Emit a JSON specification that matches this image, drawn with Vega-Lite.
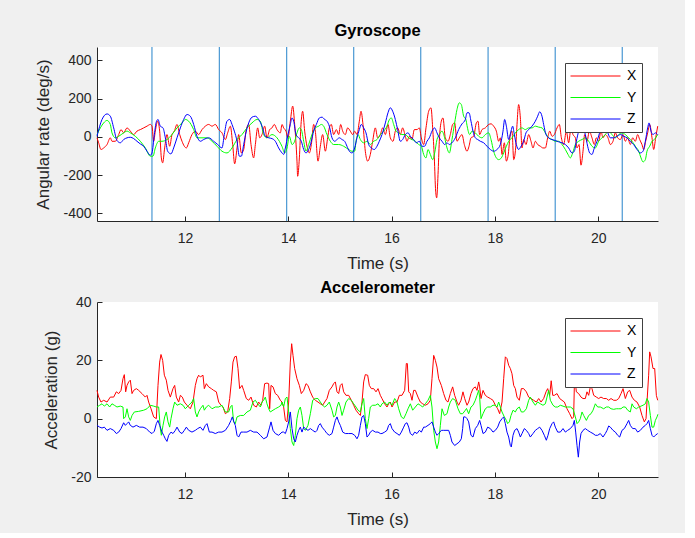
{
"$schema": "https://vega.github.io/schema/vega-lite/v6.json",
"background": "#f0f0f0",
"padding": {"left": 34, "top": 22, "right": 25, "bottom": 6},
"spacing": 8,
"config": {
 "view": {"fill": "white", "stroke": null},
 "font": "Liberation Sans",
 "axis": {"grid": false, "domainColor": "#262626", "tickColor": "#262626", "tickSize": -5, "labelFontSize": 14, "labelColor": "#262626", "titleFontSize": 17, "titleFontWeight": "normal", "titleColor": "#262626", "labelExpr": "replace(datum.label, '\u2212', '-')"},
 "axisX": {"labelPadding": 15, "titlePadding": 10},
 "axisY": {"labelPadding": 11, "titlePadding": 10},
 "title": {"fontSize": 16.5, "fontWeight": "bold", "color": "#000000", "offset": 7},
 "legend": {"orient": "top-right", "offset": 16, "fillColor": "white", "strokeColor": "#404040", "padding": 5, "symbolType": "stroke", "symbolSize": 2500, "symbolStrokeWidth": 1, "labelFontSize": 14, "labelColor": "#000000", "labelOffset": 6, "clipHeight": 16, "rowPadding": 5.5, "cornerRadius": 0}
},
"resolve": {"scale": {"color": "independent", "x": "independent", "y": "independent"}, "legend": {"color": "independent"}},
"datasets": {
 "vlines": [{"t":11.36},{"t":12.665},{"t":13.968},{"t":15.266},{"t":16.564},{"t":17.868},{"t":19.168},{"t":20.466}],
 "gyro": [
{"s":"X","t":10.296,"v":-5},{"s":"X","t":10.328,"v":-31},{"s":"X","t":10.373,"v":-66},{"s":"X","t":10.425,"v":-58},{"s":"X","t":10.49,"v":-40},{"s":"X","t":10.554,"v":-5},{"s":"X","t":10.586,"v":-23},{"s":"X","t":10.651,"v":-23},{"s":"X","t":10.716,"v":12},{"s":"X","t":10.761,"v":38},{"s":"X","t":10.812,"v":21},{"s":"X","t":10.877,"v":47},{"s":"X","t":10.941,"v":30},{"s":"X","t":11.006,"v":12},{"s":"X","t":11.07,"v":30},{"s":"X","t":11.135,"v":38},{"s":"X","t":11.2,"v":47},{"s":"X","t":11.264,"v":56},{"s":"X","t":11.329,"v":65},{"s":"X","t":11.361,"v":56},{"s":"X","t":11.393,"v":-23},{"s":"X","t":11.425,"v":30},{"s":"X","t":11.471,"v":82},{"s":"X","t":11.509,"v":30},{"s":"X","t":11.542,"v":-110},{"s":"X","t":11.567,"v":-136},{"s":"X","t":11.606,"v":-58},{"s":"X","t":11.651,"v":12},{"s":"X","t":11.703,"v":-49},{"s":"X","t":11.748,"v":12},{"s":"X","t":11.793,"v":30},{"s":"X","t":11.845,"v":65},{"s":"X","t":11.897,"v":12},{"s":"X","t":11.942,"v":-23},{"s":"X","t":11.987,"v":-49},{"s":"X","t":12.026,"v":-58},{"s":"X","t":12.071,"v":-31},{"s":"X","t":12.135,"v":12},{"s":"X","t":12.2,"v":30},{"s":"X","t":12.264,"v":12},{"s":"X","t":12.329,"v":38},{"s":"X","t":12.394,"v":56},{"s":"X","t":12.458,"v":65},{"s":"X","t":12.523,"v":56},{"s":"X","t":12.587,"v":65},{"s":"X","t":12.652,"v":38},{"s":"X","t":12.716,"v":21},{"s":"X","t":12.781,"v":-14},{"s":"X","t":12.826,"v":21},{"s":"X","t":12.878,"v":56},{"s":"X","t":12.923,"v":-40},{"s":"X","t":12.961,"v":-141},{"s":"X","t":13.007,"v":-58},{"s":"X","t":13.039,"v":12},{"s":"X","t":13.091,"v":-84},{"s":"X","t":13.136,"v":-66},{"s":"X","t":13.181,"v":30},{"s":"X","t":13.233,"v":65},{"s":"X","t":13.278,"v":-40},{"s":"X","t":13.329,"v":-110},{"s":"X","t":13.362,"v":-40},{"s":"X","t":13.407,"v":47},{"s":"X","t":13.446,"v":-5},{"s":"X","t":13.491,"v":12},{"s":"X","t":13.542,"v":56},{"s":"X","t":13.587,"v":-5},{"s":"X","t":13.639,"v":38},{"s":"X","t":13.684,"v":47},{"s":"X","t":13.729,"v":65},{"s":"X","t":13.781,"v":38},{"s":"X","t":13.846,"v":21},{"s":"X","t":13.878,"v":65},{"s":"X","t":13.91,"v":47},{"s":"X","t":13.955,"v":30},{"s":"X","t":13.994,"v":-5},{"s":"X","t":14.039,"v":82},{"s":"X","t":14.085,"v":161},{"s":"X","t":14.123,"v":65},{"s":"X","t":14.168,"v":-127},{"s":"X","t":14.181,"v":-206},{"s":"X","t":14.214,"v":-110},{"s":"X","t":14.246,"v":65},{"s":"X","t":14.278,"v":134},{"s":"X","t":14.317,"v":30},{"s":"X","t":14.362,"v":-49},{"s":"X","t":14.407,"v":-84},{"s":"X","t":14.446,"v":-40},{"s":"X","t":14.491,"v":65},{"s":"X","t":14.523,"v":30},{"s":"X","t":14.575,"v":-127},{"s":"X","t":14.62,"v":-49},{"s":"X","t":14.665,"v":12},{"s":"X","t":14.717,"v":-75},{"s":"X","t":14.762,"v":-5},{"s":"X","t":14.794,"v":47},{"s":"X","t":14.833,"v":65},{"s":"X","t":14.878,"v":12},{"s":"X","t":14.93,"v":38},{"s":"X","t":14.975,"v":12},{"s":"X","t":15.014,"v":65},{"s":"X","t":15.053,"v":30},{"s":"X","t":15.104,"v":12},{"s":"X","t":15.149,"v":47},{"s":"X","t":15.201,"v":30},{"s":"X","t":15.246,"v":12},{"s":"X","t":15.285,"v":30},{"s":"X","t":15.33,"v":12},{"s":"X","t":15.375,"v":82},{"s":"X","t":15.408,"v":134},{"s":"X","t":15.446,"v":65},{"s":"X","t":15.491,"v":-75},{"s":"X","t":15.537,"v":-127},{"s":"X","t":15.588,"v":-92},{"s":"X","t":15.633,"v":-23},{"s":"X","t":15.685,"v":47},{"s":"X","t":15.73,"v":-5},{"s":"X","t":15.782,"v":12},{"s":"X","t":15.827,"v":47},{"s":"X","t":15.879,"v":12},{"s":"X","t":15.93,"v":65},{"s":"X","t":15.975,"v":-5},{"s":"X","t":16.027,"v":-23},{"s":"X","t":16.072,"v":30},{"s":"X","t":16.117,"v":47},{"s":"X","t":16.169,"v":12},{"s":"X","t":16.214,"v":47},{"s":"X","t":16.266,"v":3},{"s":"X","t":16.298,"v":-23},{"s":"X","t":16.343,"v":3},{"s":"X","t":16.395,"v":-14},{"s":"X","t":16.44,"v":38},{"s":"X","t":16.492,"v":38},{"s":"X","t":16.537,"v":47},{"s":"X","t":16.576,"v":-5},{"s":"X","t":16.621,"v":-40},{"s":"X","t":16.666,"v":47},{"s":"X","t":16.718,"v":134},{"s":"X","t":16.763,"v":152},{"s":"X","t":16.795,"v":47},{"s":"X","t":16.827,"v":-110},{"s":"X","t":16.853,"v":-284},{"s":"X","t":16.873,"v":-319},{"s":"X","t":16.899,"v":-197},{"s":"X","t":16.924,"v":-23},{"s":"X","t":16.963,"v":82},{"s":"X","t":16.995,"v":99},{"s":"X","t":17.04,"v":-5},{"s":"X","t":17.092,"v":-23},{"s":"X","t":17.137,"v":12},{"s":"X","t":17.182,"v":65},{"s":"X","t":17.221,"v":73},{"s":"X","t":17.266,"v":-23},{"s":"X","t":17.311,"v":-5},{"s":"X","t":17.363,"v":12},{"s":"X","t":17.408,"v":-40},{"s":"X","t":17.46,"v":-75},{"s":"X","t":17.499,"v":-49},{"s":"X","t":17.537,"v":-5},{"s":"X","t":17.589,"v":3},{"s":"X","t":17.641,"v":73},{"s":"X","t":17.673,"v":82},{"s":"X","t":17.705,"v":12},{"s":"X","t":17.75,"v":38},{"s":"X","t":17.815,"v":47},{"s":"X","t":17.88,"v":65},{"s":"X","t":17.925,"v":68},{"s":"X","t":17.976,"v":56},{"s":"X","t":18.028,"v":30},{"s":"X","t":18.073,"v":-23},{"s":"X","t":18.105,"v":-5},{"s":"X","t":18.138,"v":-92},{"s":"X","t":18.183,"v":-31},{"s":"X","t":18.222,"v":-127},{"s":"X","t":18.254,"v":-101},{"s":"X","t":18.299,"v":12},{"s":"X","t":18.331,"v":30},{"s":"X","t":18.364,"v":-119},{"s":"X","t":18.402,"v":-58},{"s":"X","t":18.428,"v":65},{"s":"X","t":18.46,"v":169},{"s":"X","t":18.493,"v":99},{"s":"X","t":18.525,"v":-58},{"s":"X","t":18.557,"v":-14},{"s":"X","t":18.602,"v":-40},{"s":"X","t":18.654,"v":12},{"s":"X","t":18.699,"v":-23},{"s":"X","t":18.738,"v":-58},{"s":"X","t":18.783,"v":-23},{"s":"X","t":18.828,"v":-40},{"s":"X","t":18.88,"v":-49},{"s":"X","t":18.931,"v":-58},{"s":"X","t":18.977,"v":-58},{"s":"X","t":19.022,"v":-5},{"s":"X","t":19.061,"v":30},{"s":"X","t":19.106,"v":3},{"s":"X","t":19.151,"v":12},{"s":"X","t":19.203,"v":47},{"s":"X","t":19.248,"v":65},{"s":"X","t":19.287,"v":-5},{"s":"X","t":19.332,"v":-40},{"s":"X","t":19.383,"v":30},{"s":"X","t":19.428,"v":-31},{"s":"X","t":19.474,"v":47},{"s":"X","t":19.512,"v":12},{"s":"X","t":19.558,"v":-5},{"s":"X","t":19.59,"v":-58},{"s":"X","t":19.629,"v":-40},{"s":"X","t":19.667,"v":-148},{"s":"X","t":19.706,"v":-75},{"s":"X","t":19.738,"v":12},{"s":"X","t":19.783,"v":-23},{"s":"X","t":19.829,"v":30},{"s":"X","t":19.88,"v":-5},{"s":"X","t":19.925,"v":-40},{"s":"X","t":19.964,"v":-5},{"s":"X","t":20.009,"v":-23},{"s":"X","t":20.054,"v":30},{"s":"X","t":20.093,"v":-5},{"s":"X","t":20.138,"v":12},{"s":"X","t":20.19,"v":-5},{"s":"X","t":20.235,"v":-40},{"s":"X","t":20.287,"v":-23},{"s":"X","t":20.332,"v":21},{"s":"X","t":20.377,"v":-5},{"s":"X","t":20.429,"v":-14},{"s":"X","t":20.481,"v":12},{"s":"X","t":20.526,"v":-23},{"s":"X","t":20.571,"v":-5},{"s":"X","t":20.622,"v":-40},{"s":"X","t":20.668,"v":-5},{"s":"X","t":20.719,"v":-23},{"s":"X","t":20.764,"v":12},{"s":"X","t":20.803,"v":-14},{"s":"X","t":20.848,"v":-40},{"s":"X","t":20.881,"v":-66},{"s":"X","t":20.919,"v":-23},{"s":"X","t":20.958,"v":21},{"s":"X","t":20.997,"v":65},{"s":"X","t":21.042,"v":-5},{"s":"X","t":21.074,"v":-66},{"s":"X","t":21.113,"v":-5},{"s":"X","t":21.152,"v":56},
{"s":"Y","t":10.296,"v":12},{"s":"Y","t":10.361,"v":47},{"s":"Y","t":10.425,"v":73},{"s":"Y","t":10.49,"v":86},{"s":"Y","t":10.554,"v":65},{"s":"Y","t":10.586,"v":21},{"s":"Y","t":10.651,"v":-5},{"s":"Y","t":10.716,"v":3},{"s":"Y","t":10.812,"v":21},{"s":"Y","t":10.877,"v":30},{"s":"Y","t":10.941,"v":21},{"s":"Y","t":11.038,"v":3},{"s":"Y","t":11.135,"v":-23},{"s":"Y","t":11.232,"v":-58},{"s":"Y","t":11.329,"v":-101},{"s":"Y","t":11.38,"v":-101},{"s":"Y","t":11.425,"v":-58},{"s":"Y","t":11.49,"v":-23},{"s":"Y","t":11.555,"v":-23},{"s":"Y","t":11.651,"v":-14},{"s":"Y","t":11.748,"v":12},{"s":"Y","t":11.845,"v":47},{"s":"Y","t":11.942,"v":73},{"s":"Y","t":12.006,"v":91},{"s":"Y","t":12.071,"v":82},{"s":"Y","t":12.168,"v":38},{"s":"Y","t":12.232,"v":-5},{"s":"Y","t":12.329,"v":-5},{"s":"Y","t":12.426,"v":-5},{"s":"Y","t":12.523,"v":-23},{"s":"Y","t":12.619,"v":-49},{"s":"Y","t":12.716,"v":-75},{"s":"Y","t":12.813,"v":-84},{"s":"Y","t":12.91,"v":-58},{"s":"Y","t":13.007,"v":-14},{"s":"Y","t":13.104,"v":12},{"s":"Y","t":13.2,"v":47},{"s":"Y","t":13.297,"v":73},{"s":"Y","t":13.394,"v":91},{"s":"Y","t":13.458,"v":82},{"s":"Y","t":13.523,"v":12},{"s":"Y","t":13.587,"v":-5},{"s":"Y","t":13.684,"v":12},{"s":"Y","t":13.781,"v":-5},{"s":"Y","t":13.878,"v":-50},{"s":"Y","t":13.93,"v":-84},{"s":"Y","t":13.975,"v":-58},{"s":"Y","t":14.02,"v":3},{"s":"Y","t":14.072,"v":-40},{"s":"Y","t":14.123,"v":-23},{"s":"Y","t":14.168,"v":21},{"s":"Y","t":14.214,"v":47},{"s":"Y","t":14.252,"v":38},{"s":"Y","t":14.298,"v":-23},{"s":"Y","t":14.343,"v":-75},{"s":"Y","t":14.394,"v":-40},{"s":"Y","t":14.459,"v":12},{"s":"Y","t":14.523,"v":47},{"s":"Y","t":14.588,"v":56},{"s":"Y","t":14.64,"v":65},{"s":"Y","t":14.685,"v":56},{"s":"Y","t":14.749,"v":12},{"s":"Y","t":14.814,"v":-23},{"s":"Y","t":14.878,"v":-40},{"s":"Y","t":14.975,"v":-40},{"s":"Y","t":15.072,"v":-49},{"s":"Y","t":15.169,"v":-66},{"s":"Y","t":15.233,"v":-75},{"s":"Y","t":15.285,"v":-75},{"s":"Y","t":15.311,"v":-23},{"s":"Y","t":15.35,"v":12},{"s":"Y","t":15.395,"v":-14},{"s":"Y","t":15.459,"v":-31},{"s":"Y","t":15.524,"v":-23},{"s":"Y","t":15.588,"v":-40},{"s":"Y","t":15.653,"v":-23},{"s":"Y","t":15.717,"v":-14},{"s":"Y","t":15.782,"v":12},{"s":"Y","t":15.846,"v":30},{"s":"Y","t":15.911,"v":56},{"s":"Y","t":15.956,"v":90},{"s":"Y","t":15.995,"v":99},{"s":"Y","t":16.04,"v":65},{"s":"Y","t":16.085,"v":30},{"s":"Y","t":16.137,"v":21},{"s":"Y","t":16.201,"v":12},{"s":"Y","t":16.266,"v":12},{"s":"Y","t":16.33,"v":-5},{"s":"Y","t":16.395,"v":-14},{"s":"Y","t":16.46,"v":-23},{"s":"Y","t":16.524,"v":-40},{"s":"Y","t":16.576,"v":-49},{"s":"Y","t":16.621,"v":-92},{"s":"Y","t":16.666,"v":-110},{"s":"Y","t":16.705,"v":-66},{"s":"Y","t":16.75,"v":-92},{"s":"Y","t":16.795,"v":-119},{"s":"Y","t":16.834,"v":-84},{"s":"Y","t":16.879,"v":-14},{"s":"Y","t":16.924,"v":12},{"s":"Y","t":16.976,"v":30},{"s":"Y","t":17.027,"v":-5},{"s":"Y","t":17.073,"v":-58},{"s":"Y","t":17.118,"v":-84},{"s":"Y","t":17.169,"v":-14},{"s":"Y","t":17.221,"v":73},{"s":"Y","t":17.266,"v":143},{"s":"Y","t":17.311,"v":178},{"s":"Y","t":17.35,"v":169},{"s":"Y","t":17.395,"v":108},{"s":"Y","t":17.44,"v":90},{"s":"Y","t":17.46,"v":60},{"s":"Y","t":17.512,"v":12},{"s":"Y","t":17.557,"v":30},{"s":"Y","t":17.621,"v":21},{"s":"Y","t":17.686,"v":3},{"s":"Y","t":17.75,"v":-5},{"s":"Y","t":17.815,"v":12},{"s":"Y","t":17.88,"v":21},{"s":"Y","t":17.925,"v":-14},{"s":"Y","t":17.976,"v":-75},{"s":"Y","t":18.028,"v":-110},{"s":"Y","t":18.073,"v":-119},{"s":"Y","t":18.125,"v":-110},{"s":"Y","t":18.17,"v":-84},{"s":"Y","t":18.222,"v":-49},{"s":"Y","t":18.267,"v":-23},{"s":"Y","t":18.331,"v":-5},{"s":"Y","t":18.396,"v":21},{"s":"Y","t":18.46,"v":38},{"s":"Y","t":18.525,"v":47},{"s":"Y","t":18.589,"v":38},{"s":"Y","t":18.654,"v":47},{"s":"Y","t":18.718,"v":47},{"s":"Y","t":18.783,"v":56},{"s":"Y","t":18.848,"v":51},{"s":"Y","t":18.912,"v":47},{"s":"Y","t":18.977,"v":21},{"s":"Y","t":19.041,"v":-5},{"s":"Y","t":19.106,"v":-14},{"s":"Y","t":19.17,"v":-23},{"s":"Y","t":19.235,"v":-23},{"s":"Y","t":19.299,"v":-40},{"s":"Y","t":19.364,"v":-66},{"s":"Y","t":19.416,"v":-92},{"s":"Y","t":19.461,"v":-110},{"s":"Y","t":19.506,"v":-84},{"s":"Y","t":19.558,"v":-40},{"s":"Y","t":19.622,"v":-23},{"s":"Y","t":19.687,"v":-14},{"s":"Y","t":19.751,"v":-5},{"s":"Y","t":19.816,"v":-23},{"s":"Y","t":19.88,"v":-49},{"s":"Y","t":19.945,"v":-58},{"s":"Y","t":20.009,"v":-23},{"s":"Y","t":20.074,"v":-5},{"s":"Y","t":20.138,"v":12},{"s":"Y","t":20.203,"v":30},{"s":"Y","t":20.267,"v":12},{"s":"Y","t":20.332,"v":-5},{"s":"Y","t":20.397,"v":12},{"s":"Y","t":20.461,"v":21},{"s":"Y","t":20.526,"v":12},{"s":"Y","t":20.59,"v":-5},{"s":"Y","t":20.655,"v":-23},{"s":"Y","t":20.719,"v":-49},{"s":"Y","t":20.784,"v":-75},{"s":"Y","t":20.829,"v":-110},{"s":"Y","t":20.868,"v":-131},{"s":"Y","t":20.913,"v":-119},{"s":"Y","t":20.945,"v":-75},{"s":"Y","t":20.997,"v":-49},{"s":"Y","t":21.042,"v":-23},{"s":"Y","t":21.087,"v":-14},{"s":"Y","t":21.152,"v":12},
{"s":"Z","t":10.296,"v":3},{"s":"Z","t":10.393,"v":91},{"s":"Z","t":10.49,"v":120},{"s":"Z","t":10.554,"v":108},{"s":"Z","t":10.619,"v":47},{"s":"Z","t":10.683,"v":-19},{"s":"Z","t":10.748,"v":-31},{"s":"Z","t":10.812,"v":-14},{"s":"Z","t":10.877,"v":-5},{"s":"Z","t":10.941,"v":-2},{"s":"Z","t":11.006,"v":-9},{"s":"Z","t":11.07,"v":-23},{"s":"Z","t":11.135,"v":-37},{"s":"Z","t":11.2,"v":-49},{"s":"Z","t":11.264,"v":-75},{"s":"Z","t":11.329,"v":-96},{"s":"Z","t":11.361,"v":-84},{"s":"Z","t":11.406,"v":12},{"s":"Z","t":11.445,"v":79},{"s":"Z","t":11.477,"v":91},{"s":"Z","t":11.522,"v":56},{"s":"Z","t":11.574,"v":47},{"s":"Z","t":11.619,"v":-5},{"s":"Z","t":11.664,"v":-75},{"s":"Z","t":11.729,"v":-89},{"s":"Z","t":11.78,"v":-58},{"s":"Z","t":11.845,"v":-5},{"s":"Z","t":11.91,"v":47},{"s":"Z","t":11.974,"v":91},{"s":"Z","t":12.039,"v":117},{"s":"Z","t":12.103,"v":108},{"s":"Z","t":12.168,"v":65},{"s":"Z","t":12.232,"v":3},{"s":"Z","t":12.297,"v":-23},{"s":"Z","t":12.361,"v":-14},{"s":"Z","t":12.458,"v":-5},{"s":"Z","t":12.555,"v":-23},{"s":"Z","t":12.632,"v":-40},{"s":"Z","t":12.716,"v":-58},{"s":"Z","t":12.761,"v":12},{"s":"Z","t":12.813,"v":82},{"s":"Z","t":12.865,"v":91},{"s":"Z","t":12.91,"v":65},{"s":"Z","t":12.955,"v":30},{"s":"Z","t":13.007,"v":-23},{"s":"Z","t":13.052,"v":-101},{"s":"Z","t":13.091,"v":-101},{"s":"Z","t":13.136,"v":-40},{"s":"Z","t":13.187,"v":30},{"s":"Z","t":13.233,"v":73},{"s":"Z","t":13.297,"v":103},{"s":"Z","t":13.362,"v":108},{"s":"Z","t":13.426,"v":91},{"s":"Z","t":13.491,"v":56},{"s":"Z","t":13.555,"v":3},{"s":"Z","t":13.62,"v":-5},{"s":"Z","t":13.684,"v":-9},{"s":"Z","t":13.749,"v":-23},{"s":"Z","t":13.813,"v":-58},{"s":"Z","t":13.878,"v":-84},{"s":"Z","t":13.91,"v":-92},{"s":"Z","t":13.943,"v":-58},{"s":"Z","t":13.994,"v":12},{"s":"Z","t":14.039,"v":65},{"s":"Z","t":14.072,"v":99},{"s":"Z","t":14.104,"v":82},{"s":"Z","t":14.149,"v":12},{"s":"Z","t":14.201,"v":-5},{"s":"Z","t":14.252,"v":-23},{"s":"Z","t":14.298,"v":-66},{"s":"Z","t":14.343,"v":-84},{"s":"Z","t":14.394,"v":-66},{"s":"Z","t":14.446,"v":-23},{"s":"Z","t":14.491,"v":30},{"s":"Z","t":14.543,"v":65},{"s":"Z","t":14.601,"v":99},{"s":"Z","t":14.653,"v":103},{"s":"Z","t":14.704,"v":91},{"s":"Z","t":14.749,"v":82},{"s":"Z","t":14.794,"v":56},{"s":"Z","t":14.846,"v":-5},{"s":"Z","t":14.898,"v":-23},{"s":"Z","t":14.943,"v":-14},{"s":"Z","t":14.988,"v":-5},{"s":"Z","t":15.04,"v":-14},{"s":"Z","t":15.091,"v":-23},{"s":"Z","t":15.136,"v":-49},{"s":"Z","t":15.182,"v":-75},{"s":"Z","t":15.233,"v":-84},{"s":"Z","t":15.285,"v":-58},{"s":"Z","t":15.33,"v":-5},{"s":"Z","t":15.375,"v":38},{"s":"Z","t":15.414,"v":65},{"s":"Z","t":15.459,"v":47},{"s":"Z","t":15.504,"v":21},{"s":"Z","t":15.556,"v":-40},{"s":"Z","t":15.608,"v":-58},{"s":"Z","t":15.666,"v":-66},{"s":"Z","t":15.717,"v":-49},{"s":"Z","t":15.762,"v":-23},{"s":"Z","t":15.814,"v":12},{"s":"Z","t":15.879,"v":73},{"s":"Z","t":15.93,"v":126},{"s":"Z","t":15.975,"v":152},{"s":"Z","t":16.021,"v":134},{"s":"Z","t":16.072,"v":91},{"s":"Z","t":16.117,"v":38},{"s":"Z","t":16.169,"v":-23},{"s":"Z","t":16.214,"v":-14},{"s":"Z","t":16.266,"v":12},{"s":"Z","t":16.318,"v":21},{"s":"Z","t":16.363,"v":3},{"s":"Z","t":16.427,"v":-14},{"s":"Z","t":16.479,"v":-31},{"s":"Z","t":16.537,"v":-23},{"s":"Z","t":16.589,"v":-49},{"s":"Z","t":16.64,"v":-49},{"s":"Z","t":16.685,"v":-23},{"s":"Z","t":16.731,"v":-5},{"s":"Z","t":16.782,"v":30},{"s":"Z","t":16.834,"v":47},{"s":"Z","t":16.879,"v":21},{"s":"Z","t":16.924,"v":-5},{"s":"Z","t":16.976,"v":-23},{"s":"Z","t":17.027,"v":-40},{"s":"Z","t":17.073,"v":-31},{"s":"Z","t":17.118,"v":-40},{"s":"Z","t":17.169,"v":-31},{"s":"Z","t":17.234,"v":-5},{"s":"Z","t":17.298,"v":38},{"s":"Z","t":17.363,"v":68},{"s":"Z","t":17.427,"v":90},{"s":"Z","t":17.46,"v":126},{"s":"Z","t":17.499,"v":126},{"s":"Z","t":17.537,"v":82},{"s":"Z","t":17.576,"v":30},{"s":"Z","t":17.621,"v":-5},{"s":"Z","t":17.667,"v":-14},{"s":"Z","t":17.718,"v":-23},{"s":"Z","t":17.783,"v":-31},{"s":"Z","t":17.847,"v":-49},{"s":"Z","t":17.912,"v":-66},{"s":"Z","t":17.976,"v":-75},{"s":"Z","t":18.041,"v":-66},{"s":"Z","t":18.105,"v":-40},{"s":"Z","t":18.157,"v":30},{"s":"Z","t":18.189,"v":91},{"s":"Z","t":18.222,"v":56},{"s":"Z","t":18.267,"v":-14},{"s":"Z","t":18.312,"v":30},{"s":"Z","t":18.344,"v":56},{"s":"Z","t":18.376,"v":12},{"s":"Z","t":18.415,"v":-40},{"s":"Z","t":18.46,"v":-66},{"s":"Z","t":18.506,"v":-49},{"s":"Z","t":18.557,"v":-23},{"s":"Z","t":18.602,"v":21},{"s":"Z","t":18.654,"v":38},{"s":"Z","t":18.718,"v":56},{"s":"Z","t":18.783,"v":82},{"s":"Z","t":18.828,"v":108},{"s":"Z","t":18.867,"v":131},{"s":"Z","t":18.912,"v":108},{"s":"Z","t":18.944,"v":65},{"s":"Z","t":18.99,"v":12},{"s":"Z","t":19.041,"v":-5},{"s":"Z","t":19.106,"v":-14},{"s":"Z","t":19.17,"v":-19},{"s":"Z","t":19.235,"v":-26},{"s":"Z","t":19.299,"v":-31},{"s":"Z","t":19.364,"v":-40},{"s":"Z","t":19.428,"v":-58},{"s":"Z","t":19.493,"v":-84},{"s":"Z","t":19.538,"v":-75},{"s":"Z","t":19.577,"v":-23},{"s":"Z","t":19.622,"v":30},{"s":"Z","t":19.667,"v":65},{"s":"Z","t":19.706,"v":47},{"s":"Z","t":19.751,"v":12},{"s":"Z","t":19.796,"v":-49},{"s":"Z","t":19.835,"v":-84},{"s":"Z","t":19.88,"v":-92},{"s":"Z","t":19.925,"v":-58},{"s":"Z","t":19.977,"v":-23},{"s":"Z","t":20.041,"v":30},{"s":"Z","t":20.106,"v":47},{"s":"Z","t":20.171,"v":30},{"s":"Z","t":20.235,"v":-5},{"s":"Z","t":20.3,"v":-5},{"s":"Z","t":20.364,"v":3},{"s":"Z","t":20.429,"v":12},{"s":"Z","t":20.493,"v":3},{"s":"Z","t":20.558,"v":-5},{"s":"Z","t":20.622,"v":-23},{"s":"Z","t":20.687,"v":-40},{"s":"Z","t":20.751,"v":-66},{"s":"Z","t":20.816,"v":-84},{"s":"Z","t":20.868,"v":-75},{"s":"Z","t":20.913,"v":-23},{"s":"Z","t":20.958,"v":47},{"s":"Z","t":20.984,"v":73},{"s":"Z","t":21.023,"v":30},{"s":"Z","t":21.061,"v":12},{"s":"Z","t":21.107,"v":21},{"s":"Z","t":21.152,"v":12}
 ],
 "accel": [
{"s":"X","t":10.296,"v":9.7},{"s":"X","t":10.328,"v":7.4},{"s":"X","t":10.373,"v":5.7},{"s":"X","t":10.425,"v":6.3},{"s":"X","t":10.49,"v":5.7},{"s":"X","t":10.554,"v":7.4},{"s":"X","t":10.619,"v":7.4},{"s":"X","t":10.67,"v":9.2},{"s":"X","t":10.716,"v":8.6},{"s":"X","t":10.761,"v":9.7},{"s":"X","t":10.799,"v":13.7},{"s":"X","t":10.825,"v":15.1},{"s":"X","t":10.851,"v":9.2},{"s":"X","t":10.877,"v":11.4},{"s":"X","t":10.909,"v":12.6},{"s":"X","t":10.941,"v":13.2},{"s":"X","t":10.974,"v":8.6},{"s":"X","t":11.006,"v":9.7},{"s":"X","t":11.058,"v":10.3},{"s":"X","t":11.103,"v":9.7},{"s":"X","t":11.167,"v":8.6},{"s":"X","t":11.232,"v":7.4},{"s":"X","t":11.264,"v":8},{"s":"X","t":11.296,"v":5.7},{"s":"X","t":11.342,"v":3.4},{"s":"X","t":11.393,"v":0.6},{"s":"X","t":11.445,"v":0},{"s":"X","t":11.477,"v":11.4},{"s":"X","t":11.509,"v":19.4},{"s":"X","t":11.535,"v":22},{"s":"X","t":11.567,"v":20},{"s":"X","t":11.6,"v":14.9},{"s":"X","t":11.638,"v":13.2},{"s":"X","t":11.671,"v":9.7},{"s":"X","t":11.716,"v":7.4},{"s":"X","t":11.767,"v":10.3},{"s":"X","t":11.8,"v":11.4},{"s":"X","t":11.832,"v":7.4},{"s":"X","t":11.877,"v":5.7},{"s":"X","t":11.91,"v":8},{"s":"X","t":11.948,"v":7.4},{"s":"X","t":11.987,"v":5.7},{"s":"X","t":12.039,"v":4.6},{"s":"X","t":12.103,"v":3.4},{"s":"X","t":12.155,"v":5.7},{"s":"X","t":12.2,"v":11.4},{"s":"X","t":12.232,"v":13.7},{"s":"X","t":12.264,"v":14.9},{"s":"X","t":12.297,"v":14.3},{"s":"X","t":12.348,"v":14.9},{"s":"X","t":12.374,"v":10.3},{"s":"X","t":12.413,"v":12},{"s":"X","t":12.458,"v":10.9},{"s":"X","t":12.51,"v":10.3},{"s":"X","t":12.555,"v":9.7},{"s":"X","t":12.607,"v":9.2},{"s":"X","t":12.652,"v":5.7},{"s":"X","t":12.697,"v":4.6},{"s":"X","t":12.736,"v":4},{"s":"X","t":12.781,"v":1.7},{"s":"X","t":12.826,"v":2.3},{"s":"X","t":12.865,"v":6.9},{"s":"X","t":12.897,"v":12.6},{"s":"X","t":12.929,"v":19.4},{"s":"X","t":12.961,"v":21.2},{"s":"X","t":12.994,"v":21.4},{"s":"X","t":13.026,"v":17.2},{"s":"X","t":13.058,"v":10.3},{"s":"X","t":13.103,"v":11.4},{"s":"X","t":13.136,"v":9.7},{"s":"X","t":13.187,"v":6.9},{"s":"X","t":13.233,"v":6.3},{"s":"X","t":13.278,"v":7.4},{"s":"X","t":13.329,"v":4.6},{"s":"X","t":13.381,"v":4},{"s":"X","t":13.426,"v":5.7},{"s":"X","t":13.471,"v":4.6},{"s":"X","t":13.504,"v":6.3},{"s":"X","t":13.542,"v":12},{"s":"X","t":13.587,"v":12.2},{"s":"X","t":13.62,"v":12},{"s":"X","t":13.639,"v":3.4},{"s":"X","t":13.665,"v":11.4},{"s":"X","t":13.704,"v":10.9},{"s":"X","t":13.749,"v":8.6},{"s":"X","t":13.794,"v":8},{"s":"X","t":13.846,"v":6.3},{"s":"X","t":13.878,"v":5.7},{"s":"X","t":13.91,"v":4},{"s":"X","t":13.943,"v":-0.6},{"s":"X","t":13.975,"v":-1.1},{"s":"X","t":14.007,"v":5.7},{"s":"X","t":14.039,"v":19.4},{"s":"X","t":14.065,"v":25.7},{"s":"X","t":14.091,"v":21.7},{"s":"X","t":14.123,"v":17.2},{"s":"X","t":14.168,"v":13.7},{"s":"X","t":14.214,"v":11.4},{"s":"X","t":14.252,"v":8.6},{"s":"X","t":14.298,"v":9.7},{"s":"X","t":14.343,"v":12},{"s":"X","t":14.381,"v":11.4},{"s":"X","t":14.427,"v":9.2},{"s":"X","t":14.472,"v":7.4},{"s":"X","t":14.523,"v":6.3},{"s":"X","t":14.575,"v":5.7},{"s":"X","t":14.62,"v":5.1},{"s":"X","t":14.665,"v":4.6},{"s":"X","t":14.704,"v":5.7},{"s":"X","t":14.749,"v":6.9},{"s":"X","t":14.794,"v":9.7},{"s":"X","t":14.846,"v":10.9},{"s":"X","t":14.878,"v":12},{"s":"X","t":14.911,"v":12.6},{"s":"X","t":14.943,"v":9.2},{"s":"X","t":14.975,"v":8.6},{"s":"X","t":15.007,"v":11.4},{"s":"X","t":15.04,"v":12},{"s":"X","t":15.072,"v":9.2},{"s":"X","t":15.117,"v":8},{"s":"X","t":15.169,"v":8},{"s":"X","t":15.22,"v":6.3},{"s":"X","t":15.266,"v":4.6},{"s":"X","t":15.311,"v":2.9},{"s":"X","t":15.362,"v":1.7},{"s":"X","t":15.395,"v":1.1},{"s":"X","t":15.427,"v":5.7},{"s":"X","t":15.459,"v":12.6},{"s":"X","t":15.491,"v":15.1},{"s":"X","t":15.537,"v":14.9},{"s":"X","t":15.569,"v":11.4},{"s":"X","t":15.608,"v":10.3},{"s":"X","t":15.653,"v":10.3},{"s":"X","t":15.698,"v":9.2},{"s":"X","t":15.737,"v":10.3},{"s":"X","t":15.782,"v":8},{"s":"X","t":15.814,"v":6.9},{"s":"X","t":15.866,"v":5.1},{"s":"X","t":15.911,"v":4},{"s":"X","t":15.943,"v":5.1},{"s":"X","t":15.975,"v":5.7},{"s":"X","t":16.008,"v":4},{"s":"X","t":16.059,"v":5.7},{"s":"X","t":16.105,"v":5.7},{"s":"X","t":16.15,"v":8},{"s":"X","t":16.201,"v":8},{"s":"X","t":16.253,"v":9.7},{"s":"X","t":16.285,"v":18.9},{"s":"X","t":16.305,"v":18.9},{"s":"X","t":16.331,"v":9.2},{"s":"X","t":16.363,"v":8.6},{"s":"X","t":16.395,"v":6.3},{"s":"X","t":16.427,"v":9.7},{"s":"X","t":16.46,"v":9.7},{"s":"X","t":16.511,"v":7.4},{"s":"X","t":16.556,"v":5.7},{"s":"X","t":16.602,"v":5.1},{"s":"X","t":16.653,"v":4.6},{"s":"X","t":16.705,"v":5.1},{"s":"X","t":16.75,"v":6.3},{"s":"X","t":16.782,"v":13.7},{"s":"X","t":16.815,"v":21.7},{"s":"X","t":16.847,"v":20},{"s":"X","t":16.879,"v":17.7},{"s":"X","t":16.911,"v":13.7},{"s":"X","t":16.963,"v":11.4},{"s":"X","t":17.008,"v":8.6},{"s":"X","t":17.053,"v":6.3},{"s":"X","t":17.092,"v":5.7},{"s":"X","t":17.137,"v":8.6},{"s":"X","t":17.182,"v":10.9},{"s":"X","t":17.221,"v":8},{"s":"X","t":17.266,"v":5.7},{"s":"X","t":17.298,"v":4.6},{"s":"X","t":17.344,"v":6.3},{"s":"X","t":17.382,"v":9.2},{"s":"X","t":17.415,"v":6.9},{"s":"X","t":17.46,"v":4.6},{"s":"X","t":17.492,"v":5.7},{"s":"X","t":17.537,"v":8.6},{"s":"X","t":17.576,"v":10.3},{"s":"X","t":17.621,"v":10.9},{"s":"X","t":17.654,"v":9.7},{"s":"X","t":17.686,"v":12.6},{"s":"X","t":17.705,"v":10.9},{"s":"X","t":17.731,"v":6.9},{"s":"X","t":17.77,"v":9.7},{"s":"X","t":17.815,"v":8},{"s":"X","t":17.86,"v":7.4},{"s":"X","t":17.912,"v":6.9},{"s":"X","t":17.963,"v":6.3},{"s":"X","t":18.009,"v":4.6},{"s":"X","t":18.054,"v":3.4},{"s":"X","t":18.092,"v":1.7},{"s":"X","t":18.138,"v":5.7},{"s":"X","t":18.17,"v":13.7},{"s":"X","t":18.202,"v":21.2},{"s":"X","t":18.234,"v":20.6},{"s":"X","t":18.267,"v":18.3},{"s":"X","t":18.299,"v":17.2},{"s":"X","t":18.331,"v":15.4},{"s":"X","t":18.364,"v":11.4},{"s":"X","t":18.396,"v":10.3},{"s":"X","t":18.428,"v":7.4},{"s":"X","t":18.473,"v":6.3},{"s":"X","t":18.512,"v":10.3},{"s":"X","t":18.557,"v":10.3},{"s":"X","t":18.609,"v":9.2},{"s":"X","t":18.654,"v":7.4},{"s":"X","t":18.699,"v":6.9},{"s":"X","t":18.751,"v":6.3},{"s":"X","t":18.802,"v":5.7},{"s":"X","t":18.848,"v":6.9},{"s":"X","t":18.893,"v":5.7},{"s":"X","t":18.944,"v":6.9},{"s":"X","t":18.99,"v":9.2},{"s":"X","t":19.022,"v":10.3},{"s":"X","t":19.061,"v":8},{"s":"X","t":19.09,"v":13},{"s":"X","t":19.12,"v":8},{"s":"X","t":19.151,"v":8},{"s":"X","t":19.203,"v":8.6},{"s":"X","t":19.254,"v":6.9},{"s":"X","t":19.299,"v":6.3},{"s":"X","t":19.345,"v":5.7},{"s":"X","t":19.396,"v":3.4},{"s":"X","t":19.448,"v":1.7},{"s":"X","t":19.493,"v":0},{"s":"X","t":19.525,"v":0.6},{"s":"X","t":19.545,"v":17},{"s":"X","t":19.56,"v":12},{"s":"X","t":19.577,"v":9.2},{"s":"X","t":19.622,"v":8.6},{"s":"X","t":19.667,"v":7.4},{"s":"X","t":19.706,"v":6.9},{"s":"X","t":19.751,"v":6.9},{"s":"X","t":19.783,"v":9.2},{"s":"X","t":19.816,"v":8},{"s":"X","t":19.848,"v":10.9},{"s":"X","t":19.88,"v":10.3},{"s":"X","t":19.913,"v":8},{"s":"X","t":19.964,"v":7.4},{"s":"X","t":20.009,"v":6.9},{"s":"X","t":20.054,"v":7.4},{"s":"X","t":20.106,"v":6.9},{"s":"X","t":20.158,"v":6.9},{"s":"X","t":20.203,"v":6.3},{"s":"X","t":20.248,"v":6.9},{"s":"X","t":20.3,"v":6.3},{"s":"X","t":20.351,"v":6.3},{"s":"X","t":20.397,"v":6.9},{"s":"X","t":20.442,"v":8.6},{"s":"X","t":20.481,"v":10.3},{"s":"X","t":20.526,"v":6.9},{"s":"X","t":20.571,"v":9.2},{"s":"X","t":20.61,"v":9.7},{"s":"X","t":20.655,"v":7.4},{"s":"X","t":20.7,"v":6.3},{"s":"X","t":20.751,"v":5.7},{"s":"X","t":20.803,"v":4},{"s":"X","t":20.848,"v":1.1},{"s":"X","t":20.893,"v":-1.1},{"s":"X","t":20.926,"v":0},{"s":"X","t":20.945,"v":5.7},{"s":"X","t":20.977,"v":14.9},{"s":"X","t":20.997,"v":22.9},{"s":"X","t":21.023,"v":21.2},{"s":"X","t":21.061,"v":17.2},{"s":"X","t":21.094,"v":17.2},{"s":"X","t":21.126,"v":8},{"s":"X","t":21.152,"v":6.3},
{"s":"Y","t":10.296,"v":4},{"s":"Y","t":10.348,"v":4.6},{"s":"Y","t":10.393,"v":5.1},{"s":"Y","t":10.438,"v":4.3},{"s":"Y","t":10.49,"v":5.1},{"s":"Y","t":10.541,"v":4},{"s":"Y","t":10.586,"v":5.1},{"s":"Y","t":10.632,"v":4.6},{"s":"Y","t":10.683,"v":4},{"s":"Y","t":10.748,"v":4.3},{"s":"Y","t":10.799,"v":4},{"s":"Y","t":10.812,"v":0},{"s":"Y","t":10.845,"v":0.6},{"s":"Y","t":10.877,"v":3.4},{"s":"Y","t":10.909,"v":0.6},{"s":"Y","t":10.941,"v":-0.6},{"s":"Y","t":10.974,"v":1.1},{"s":"Y","t":11.019,"v":2.3},{"s":"Y","t":11.103,"v":2.5},{"s":"Y","t":11.2,"v":2.9},{"s":"Y","t":11.264,"v":3.4},{"s":"Y","t":11.329,"v":4.6},{"s":"Y","t":11.393,"v":4.3},{"s":"Y","t":11.445,"v":4},{"s":"Y","t":11.49,"v":4},{"s":"Y","t":11.522,"v":-3.4},{"s":"Y","t":11.542,"v":-5.7},{"s":"Y","t":11.574,"v":-2.3},{"s":"Y","t":11.606,"v":0.6},{"s":"Y","t":11.638,"v":2.3},{"s":"Y","t":11.671,"v":-1.1},{"s":"Y","t":11.703,"v":-2.9},{"s":"Y","t":11.729,"v":0},{"s":"Y","t":11.767,"v":3.4},{"s":"Y","t":11.8,"v":5.7},{"s":"Y","t":11.845,"v":4.6},{"s":"Y","t":11.91,"v":5.1},{"s":"Y","t":11.961,"v":4.6},{"s":"Y","t":12.006,"v":3.4},{"s":"Y","t":12.071,"v":4.6},{"s":"Y","t":12.135,"v":5.7},{"s":"Y","t":12.168,"v":6.9},{"s":"Y","t":12.2,"v":2.3},{"s":"Y","t":12.232,"v":0.6},{"s":"Y","t":12.264,"v":2.3},{"s":"Y","t":12.297,"v":3.4},{"s":"Y","t":12.348,"v":4.6},{"s":"Y","t":12.374,"v":2.9},{"s":"Y","t":12.413,"v":4},{"s":"Y","t":12.458,"v":4.6},{"s":"Y","t":12.523,"v":3.4},{"s":"Y","t":12.587,"v":4},{"s":"Y","t":12.652,"v":4},{"s":"Y","t":12.716,"v":4.6},{"s":"Y","t":12.781,"v":2.3},{"s":"Y","t":12.845,"v":2.3},{"s":"Y","t":12.878,"v":4},{"s":"Y","t":12.91,"v":4.6},{"s":"Y","t":12.942,"v":-1.1},{"s":"Y","t":12.974,"v":-1.7},{"s":"Y","t":13.007,"v":0.6},{"s":"Y","t":13.071,"v":1.1},{"s":"Y","t":13.136,"v":1.1},{"s":"Y","t":13.2,"v":2.3},{"s":"Y","t":13.265,"v":2.9},{"s":"Y","t":13.316,"v":5.7},{"s":"Y","t":13.362,"v":6.3},{"s":"Y","t":13.407,"v":5.1},{"s":"Y","t":13.459,"v":4},{"s":"Y","t":13.491,"v":5.7},{"s":"Y","t":13.523,"v":6.3},{"s":"Y","t":13.555,"v":7.4},{"s":"Y","t":13.587,"v":5.1},{"s":"Y","t":13.62,"v":3.4},{"s":"Y","t":13.652,"v":2.3},{"s":"Y","t":13.704,"v":2.9},{"s":"Y","t":13.749,"v":3.4},{"s":"Y","t":13.813,"v":4},{"s":"Y","t":13.859,"v":4.6},{"s":"Y","t":13.878,"v":5.7},{"s":"Y","t":13.91,"v":4},{"s":"Y","t":13.943,"v":6.9},{"s":"Y","t":13.975,"v":7.4},{"s":"Y","t":14.007,"v":2.3},{"s":"Y","t":14.039,"v":-3.4},{"s":"Y","t":14.072,"v":-8},{"s":"Y","t":14.104,"v":-9.2},{"s":"Y","t":14.136,"v":-5.7},{"s":"Y","t":14.168,"v":0},{"s":"Y","t":14.201,"v":2.9},{"s":"Y","t":14.233,"v":4},{"s":"Y","t":14.265,"v":1.1},{"s":"Y","t":14.298,"v":-3.4},{"s":"Y","t":14.33,"v":-4},{"s":"Y","t":14.381,"v":-2.3},{"s":"Y","t":14.427,"v":1.7},{"s":"Y","t":14.472,"v":6.3},{"s":"Y","t":14.523,"v":6.9},{"s":"Y","t":14.575,"v":6.9},{"s":"Y","t":14.62,"v":5.7},{"s":"Y","t":14.665,"v":4.6},{"s":"Y","t":14.704,"v":4},{"s":"Y","t":14.749,"v":4.6},{"s":"Y","t":14.794,"v":5.7},{"s":"Y","t":14.846,"v":2.9},{"s":"Y","t":14.878,"v":0.6},{"s":"Y","t":14.911,"v":1.1},{"s":"Y","t":14.943,"v":4},{"s":"Y","t":14.975,"v":5.7},{"s":"Y","t":15.007,"v":4},{"s":"Y","t":15.04,"v":1.1},{"s":"Y","t":15.072,"v":2.9},{"s":"Y","t":15.117,"v":5.7},{"s":"Y","t":15.169,"v":6.9},{"s":"Y","t":15.22,"v":6.3},{"s":"Y","t":15.266,"v":5.1},{"s":"Y","t":15.311,"v":4},{"s":"Y","t":15.35,"v":2.9},{"s":"Y","t":15.395,"v":2.3},{"s":"Y","t":15.427,"v":5.1},{"s":"Y","t":15.459,"v":6.9},{"s":"Y","t":15.491,"v":0},{"s":"Y","t":15.524,"v":-3.4},{"s":"Y","t":15.556,"v":0},{"s":"Y","t":15.588,"v":4},{"s":"Y","t":15.633,"v":4.6},{"s":"Y","t":15.685,"v":4.6},{"s":"Y","t":15.737,"v":5.1},{"s":"Y","t":15.782,"v":4},{"s":"Y","t":15.814,"v":5.1},{"s":"Y","t":15.866,"v":5.7},{"s":"Y","t":15.911,"v":4.6},{"s":"Y","t":15.956,"v":5.7},{"s":"Y","t":16.008,"v":4.6},{"s":"Y","t":16.059,"v":6.9},{"s":"Y","t":16.105,"v":5.7},{"s":"Y","t":16.137,"v":3.4},{"s":"Y","t":16.189,"v":0.6},{"s":"Y","t":16.234,"v":0},{"s":"Y","t":16.279,"v":1.7},{"s":"Y","t":16.318,"v":3.4},{"s":"Y","t":16.363,"v":5.1},{"s":"Y","t":16.408,"v":2.9},{"s":"Y","t":16.46,"v":4},{"s":"Y","t":16.511,"v":5.1},{"s":"Y","t":16.556,"v":4.6},{"s":"Y","t":16.602,"v":4},{"s":"Y","t":16.653,"v":5.1},{"s":"Y","t":16.705,"v":6.3},{"s":"Y","t":16.75,"v":8},{"s":"Y","t":16.782,"v":4},{"s":"Y","t":16.815,"v":-4},{"s":"Y","t":16.847,"v":-8},{"s":"Y","t":16.879,"v":-10.3},{"s":"Y","t":16.911,"v":-8},{"s":"Y","t":16.944,"v":-2.3},{"s":"Y","t":16.976,"v":3.4},{"s":"Y","t":17.021,"v":1.1},{"s":"Y","t":17.073,"v":1.7},{"s":"Y","t":17.105,"v":4},{"s":"Y","t":17.137,"v":5.7},{"s":"Y","t":17.182,"v":6.9},{"s":"Y","t":17.234,"v":6.3},{"s":"Y","t":17.286,"v":3.4},{"s":"Y","t":17.331,"v":1.7},{"s":"Y","t":17.376,"v":1.7},{"s":"Y","t":17.428,"v":2.9},{"s":"Y","t":17.45,"v":3.5},{"s":"Y","t":17.492,"v":1.7},{"s":"Y","t":17.537,"v":4},{"s":"Y","t":17.576,"v":4.6},{"s":"Y","t":17.621,"v":6.3},{"s":"Y","t":17.654,"v":8},{"s":"Y","t":17.686,"v":9.7},{"s":"Y","t":17.705,"v":7.4},{"s":"Y","t":17.731,"v":0},{"s":"Y","t":17.77,"v":1.7},{"s":"Y","t":17.815,"v":3.4},{"s":"Y","t":17.86,"v":4},{"s":"Y","t":17.912,"v":4},{"s":"Y","t":17.963,"v":4.6},{"s":"Y","t":18.009,"v":4.6},{"s":"Y","t":18.041,"v":4},{"s":"Y","t":18.073,"v":5.7},{"s":"Y","t":18.105,"v":4},{"s":"Y","t":18.138,"v":2.3},{"s":"Y","t":18.183,"v":0.6},{"s":"Y","t":18.222,"v":-0.6},{"s":"Y","t":18.247,"v":-1.7},{"s":"Y","t":18.28,"v":-1.1},{"s":"Y","t":18.312,"v":1.1},{"s":"Y","t":18.351,"v":2.9},{"s":"Y","t":18.396,"v":2.3},{"s":"Y","t":18.428,"v":3.4},{"s":"Y","t":18.473,"v":4},{"s":"Y","t":18.512,"v":2.3},{"s":"Y","t":18.557,"v":2.3},{"s":"Y","t":18.609,"v":3.4},{"s":"Y","t":18.654,"v":6.3},{"s":"Y","t":18.686,"v":7.4},{"s":"Y","t":18.738,"v":5.7},{"s":"Y","t":18.783,"v":4.6},{"s":"Y","t":18.828,"v":5.7},{"s":"Y","t":18.88,"v":5.1},{"s":"Y","t":18.931,"v":4.6},{"s":"Y","t":18.977,"v":5.1},{"s":"Y","t":19.009,"v":7.4},{"s":"Y","t":19.041,"v":9.7},{"s":"Y","t":19.074,"v":6.3},{"s":"Y","t":19.125,"v":4.6},{"s":"Y","t":19.17,"v":4},{"s":"Y","t":19.216,"v":4},{"s":"Y","t":19.267,"v":4.6},{"s":"Y","t":19.319,"v":4.3},{"s":"Y","t":19.364,"v":4},{"s":"Y","t":19.409,"v":4},{"s":"Y","t":19.461,"v":4},{"s":"Y","t":19.512,"v":3.4},{"s":"Y","t":19.558,"v":0.6},{"s":"Y","t":19.59,"v":-1.7},{"s":"Y","t":19.622,"v":-1.1},{"s":"Y","t":19.654,"v":0},{"s":"Y","t":19.687,"v":2.3},{"s":"Y","t":19.719,"v":1.1},{"s":"Y","t":19.771,"v":-0.6},{"s":"Y","t":19.816,"v":1.1},{"s":"Y","t":19.861,"v":1.7},{"s":"Y","t":19.9,"v":2.9},{"s":"Y","t":19.945,"v":5.1},{"s":"Y","t":19.99,"v":4},{"s":"Y","t":20.041,"v":4},{"s":"Y","t":20.106,"v":3.4},{"s":"Y","t":20.158,"v":4},{"s":"Y","t":20.203,"v":4},{"s":"Y","t":20.248,"v":3.4},{"s":"Y","t":20.3,"v":3.2},{"s":"Y","t":20.351,"v":3.4},{"s":"Y","t":20.397,"v":3.4},{"s":"Y","t":20.442,"v":3.4},{"s":"Y","t":20.481,"v":4},{"s":"Y","t":20.526,"v":4},{"s":"Y","t":20.571,"v":2.9},{"s":"Y","t":20.622,"v":2.3},{"s":"Y","t":20.655,"v":5.1},{"s":"Y","t":20.687,"v":4},{"s":"Y","t":20.739,"v":3.4},{"s":"Y","t":20.784,"v":4},{"s":"Y","t":20.829,"v":4.3},{"s":"Y","t":20.868,"v":4.6},{"s":"Y","t":20.913,"v":5.1},{"s":"Y","t":20.945,"v":6.9},{"s":"Y","t":20.977,"v":5.7},{"s":"Y","t":21.01,"v":1.1},{"s":"Y","t":21.042,"v":-2.9},{"s":"Y","t":21.074,"v":-2.9},{"s":"Y","t":21.107,"v":-0.6},{"s":"Y","t":21.139,"v":0.6},{"s":"Y","t":21.155,"v":1.5},
{"s":"Z","t":10.296,"v":-2.3},{"s":"Z","t":10.348,"v":-2.9},{"s":"Z","t":10.393,"v":-3.2},{"s":"Z","t":10.438,"v":-2.9},{"s":"Z","t":10.49,"v":-4},{"s":"Z","t":10.554,"v":-3.4},{"s":"Z","t":10.619,"v":-4},{"s":"Z","t":10.67,"v":-5.1},{"s":"Z","t":10.716,"v":-4.6},{"s":"Z","t":10.761,"v":-3.4},{"s":"Z","t":10.812,"v":-1.4},{"s":"Z","t":10.845,"v":-2.3},{"s":"Z","t":10.877,"v":-1.7},{"s":"Z","t":10.909,"v":-1.1},{"s":"Z","t":10.941,"v":-2.3},{"s":"Z","t":10.993,"v":-2.9},{"s":"Z","t":11.058,"v":-2.3},{"s":"Z","t":11.122,"v":-2.9},{"s":"Z","t":11.187,"v":-2.9},{"s":"Z","t":11.251,"v":-3.4},{"s":"Z","t":11.316,"v":-4.6},{"s":"Z","t":11.361,"v":-5.1},{"s":"Z","t":11.406,"v":-4.3},{"s":"Z","t":11.445,"v":-1.7},{"s":"Z","t":11.477,"v":-0.6},{"s":"Z","t":11.509,"v":-2.3},{"s":"Z","t":11.555,"v":-4.6},{"s":"Z","t":11.587,"v":-5.7},{"s":"Z","t":11.619,"v":-6.9},{"s":"Z","t":11.651,"v":-7.8},{"s":"Z","t":11.684,"v":-5.7},{"s":"Z","t":11.729,"v":-4.6},{"s":"Z","t":11.767,"v":-5.1},{"s":"Z","t":11.813,"v":-4},{"s":"Z","t":11.845,"v":-2.9},{"s":"Z","t":11.897,"v":-4.6},{"s":"Z","t":11.942,"v":-5.1},{"s":"Z","t":11.987,"v":-4},{"s":"Z","t":12.026,"v":-2.9},{"s":"Z","t":12.071,"v":-4},{"s":"Z","t":12.135,"v":-4.6},{"s":"Z","t":12.2,"v":-4},{"s":"Z","t":12.245,"v":-3.4},{"s":"Z","t":12.297,"v":-2.9},{"s":"Z","t":12.348,"v":-4},{"s":"Z","t":12.394,"v":-2.3},{"s":"Z","t":12.426,"v":-1.7},{"s":"Z","t":12.471,"v":-4.6},{"s":"Z","t":12.523,"v":-4.6},{"s":"Z","t":12.587,"v":-5.1},{"s":"Z","t":12.652,"v":-4.6},{"s":"Z","t":12.716,"v":-4.6},{"s":"Z","t":12.781,"v":-4},{"s":"Z","t":12.845,"v":-2.3},{"s":"Z","t":12.89,"v":-0.6},{"s":"Z","t":12.916,"v":0.6},{"s":"Z","t":12.942,"v":-0.9},{"s":"Z","t":12.974,"v":-2.3},{"s":"Z","t":13.007,"v":-5.7},{"s":"Z","t":13.039,"v":-6.3},{"s":"Z","t":13.084,"v":-4.6},{"s":"Z","t":13.136,"v":-4.6},{"s":"Z","t":13.2,"v":-4.6},{"s":"Z","t":13.265,"v":-4},{"s":"Z","t":13.329,"v":-4.6},{"s":"Z","t":13.394,"v":-4.6},{"s":"Z","t":13.459,"v":-5.7},{"s":"Z","t":13.523,"v":-6.9},{"s":"Z","t":13.587,"v":-6.3},{"s":"Z","t":13.639,"v":-2.9},{"s":"Z","t":13.665,"v":-1.1},{"s":"Z","t":13.704,"v":-4},{"s":"Z","t":13.749,"v":-5.1},{"s":"Z","t":13.813,"v":-5.7},{"s":"Z","t":13.878,"v":-4.6},{"s":"Z","t":13.91,"v":-4.6},{"s":"Z","t":13.943,"v":-5.1},{"s":"Z","t":13.975,"v":-3.4},{"s":"Z","t":14.007,"v":-1.1},{"s":"Z","t":14.039,"v":2.3},{"s":"Z","t":14.072,"v":-3.4},{"s":"Z","t":14.104,"v":-6.9},{"s":"Z","t":14.136,"v":-8},{"s":"Z","t":14.168,"v":-5.7},{"s":"Z","t":14.201,"v":-4},{"s":"Z","t":14.233,"v":-2.9},{"s":"Z","t":14.265,"v":-4.6},{"s":"Z","t":14.298,"v":-2.9},{"s":"Z","t":14.33,"v":-3.4},{"s":"Z","t":14.381,"v":-4},{"s":"Z","t":14.427,"v":-3.4},{"s":"Z","t":14.472,"v":-4},{"s":"Z","t":14.523,"v":-4.6},{"s":"Z","t":14.556,"v":-4},{"s":"Z","t":14.588,"v":-2.3},{"s":"Z","t":14.62,"v":-1.7},{"s":"Z","t":14.653,"v":-2.9},{"s":"Z","t":14.704,"v":-4},{"s":"Z","t":14.749,"v":-5.1},{"s":"Z","t":14.794,"v":-5.7},{"s":"Z","t":14.846,"v":-5.1},{"s":"Z","t":14.878,"v":-2.9},{"s":"Z","t":14.911,"v":-0.6},{"s":"Z","t":14.943,"v":0.6},{"s":"Z","t":14.975,"v":-1.1},{"s":"Z","t":15.007,"v":-2.3},{"s":"Z","t":15.053,"v":-4.6},{"s":"Z","t":15.104,"v":-5.1},{"s":"Z","t":15.169,"v":-5.1},{"s":"Z","t":15.233,"v":-5.1},{"s":"Z","t":15.285,"v":-5.7},{"s":"Z","t":15.33,"v":-6.9},{"s":"Z","t":15.362,"v":-5.7},{"s":"Z","t":15.395,"v":-2.3},{"s":"Z","t":15.427,"v":0.6},{"s":"Z","t":15.459,"v":1.1},{"s":"Z","t":15.491,"v":-1.7},{"s":"Z","t":15.524,"v":-6.3},{"s":"Z","t":15.556,"v":-5.7},{"s":"Z","t":15.588,"v":-4.6},{"s":"Z","t":15.633,"v":-4},{"s":"Z","t":15.685,"v":-4.6},{"s":"Z","t":15.737,"v":-4.6},{"s":"Z","t":15.782,"v":-5.1},{"s":"Z","t":15.814,"v":-5.1},{"s":"Z","t":15.866,"v":-4.6},{"s":"Z","t":15.911,"v":-4},{"s":"Z","t":15.943,"v":-2.3},{"s":"Z","t":15.975,"v":-1.7},{"s":"Z","t":16.008,"v":-3.4},{"s":"Z","t":16.059,"v":-4.6},{"s":"Z","t":16.105,"v":-5.1},{"s":"Z","t":16.15,"v":-5.7},{"s":"Z","t":16.189,"v":-4.6},{"s":"Z","t":16.234,"v":-2.9},{"s":"Z","t":16.266,"v":-1.7},{"s":"Z","t":16.298,"v":-1.4},{"s":"Z","t":16.331,"v":-2.9},{"s":"Z","t":16.363,"v":-5.1},{"s":"Z","t":16.408,"v":-5.7},{"s":"Z","t":16.447,"v":-4.6},{"s":"Z","t":16.492,"v":-5.1},{"s":"Z","t":16.537,"v":-4},{"s":"Z","t":16.576,"v":-4.6},{"s":"Z","t":16.621,"v":-2.9},{"s":"Z","t":16.653,"v":-2.9},{"s":"Z","t":16.705,"v":-2.3},{"s":"Z","t":16.75,"v":-1.7},{"s":"Z","t":16.782,"v":-1.1},{"s":"Z","t":16.815,"v":-2.9},{"s":"Z","t":16.847,"v":-4.6},{"s":"Z","t":16.879,"v":-5.7},{"s":"Z","t":16.911,"v":-5.1},{"s":"Z","t":16.963,"v":-4},{"s":"Z","t":17.008,"v":-4},{"s":"Z","t":17.053,"v":-4},{"s":"Z","t":17.105,"v":-4},{"s":"Z","t":17.137,"v":-5.7},{"s":"Z","t":17.169,"v":-8},{"s":"Z","t":17.221,"v":-9.2},{"s":"Z","t":17.266,"v":-8.6},{"s":"Z","t":17.311,"v":-8},{"s":"Z","t":17.35,"v":-6.9},{"s":"Z","t":17.376,"v":-3.4},{"s":"Z","t":17.395,"v":0.6},{"s":"Z","t":17.428,"v":0.6},{"s":"Z","t":17.46,"v":0},{"s":"Z","t":17.492,"v":-1.1},{"s":"Z","t":17.537,"v":-5.7},{"s":"Z","t":17.576,"v":-6.3},{"s":"Z","t":17.621,"v":-3.4},{"s":"Z","t":17.667,"v":-2.3},{"s":"Z","t":17.705,"v":-0.6},{"s":"Z","t":17.731,"v":-2.3},{"s":"Z","t":17.77,"v":-5.1},{"s":"Z","t":17.815,"v":-4.6},{"s":"Z","t":17.86,"v":-2.9},{"s":"Z","t":17.912,"v":-3.4},{"s":"Z","t":17.963,"v":-4.6},{"s":"Z","t":18.009,"v":-4},{"s":"Z","t":18.054,"v":-2.9},{"s":"Z","t":18.092,"v":-1.1},{"s":"Z","t":18.138,"v":0},{"s":"Z","t":18.17,"v":0.6},{"s":"Z","t":18.202,"v":-1.7},{"s":"Z","t":18.234,"v":-4.6},{"s":"Z","t":18.267,"v":-6.3},{"s":"Z","t":18.299,"v":-9.2},{"s":"Z","t":18.318,"v":-9.7},{"s":"Z","t":18.351,"v":-5.7},{"s":"Z","t":18.383,"v":-4},{"s":"Z","t":18.428,"v":-3.4},{"s":"Z","t":18.46,"v":-4.6},{"s":"Z","t":18.493,"v":-6.3},{"s":"Z","t":18.525,"v":-5.1},{"s":"Z","t":18.57,"v":-3.4},{"s":"Z","t":18.609,"v":-4},{"s":"Z","t":18.654,"v":-5.1},{"s":"Z","t":18.686,"v":-6.3},{"s":"Z","t":18.738,"v":-5.1},{"s":"Z","t":18.783,"v":-4},{"s":"Z","t":18.828,"v":-3.4},{"s":"Z","t":18.867,"v":-2.9},{"s":"Z","t":18.912,"v":-4},{"s":"Z","t":18.957,"v":-5.7},{"s":"Z","t":18.996,"v":-7.4},{"s":"Z","t":19.028,"v":-5.7},{"s":"Z","t":19.061,"v":-3.4},{"s":"Z","t":19.106,"v":-1.7},{"s":"Z","t":19.138,"v":-1.1},{"s":"Z","t":19.17,"v":-2.9},{"s":"Z","t":19.216,"v":-4.6},{"s":"Z","t":19.267,"v":-4.6},{"s":"Z","t":19.319,"v":-3.4},{"s":"Z","t":19.364,"v":-4.6},{"s":"Z","t":19.409,"v":-4},{"s":"Z","t":19.461,"v":-3.4},{"s":"Z","t":19.512,"v":-2.3},{"s":"Z","t":19.538,"v":-0.6},{"s":"Z","t":19.564,"v":-4.6},{"s":"Z","t":19.59,"v":-9.2},{"s":"Z","t":19.616,"v":-13.2},{"s":"Z","t":19.641,"v":-8},{"s":"Z","t":19.667,"v":-5.1},{"s":"Z","t":19.706,"v":-4},{"s":"Z","t":19.751,"v":-3.4},{"s":"Z","t":19.796,"v":-4},{"s":"Z","t":19.848,"v":-4.6},{"s":"Z","t":19.9,"v":-5.1},{"s":"Z","t":19.945,"v":-5.7},{"s":"Z","t":19.99,"v":-5.7},{"s":"Z","t":20.041,"v":-5.1},{"s":"Z","t":20.093,"v":-6.3},{"s":"Z","t":20.138,"v":-5.1},{"s":"Z","t":20.171,"v":-4},{"s":"Z","t":20.203,"v":-2.5},{"s":"Z","t":20.235,"v":-2.9},{"s":"Z","t":20.287,"v":-4},{"s":"Z","t":20.332,"v":-4.6},{"s":"Z","t":20.377,"v":-5.7},{"s":"Z","t":20.416,"v":-6.3},{"s":"Z","t":20.461,"v":-4},{"s":"Z","t":20.506,"v":-3.4},{"s":"Z","t":20.558,"v":-1.7},{"s":"Z","t":20.59,"v":-0.6},{"s":"Z","t":20.622,"v":-2.3},{"s":"Z","t":20.668,"v":-3.4},{"s":"Z","t":20.719,"v":-3.4},{"s":"Z","t":20.764,"v":-4.6},{"s":"Z","t":20.816,"v":-4},{"s":"Z","t":20.868,"v":-2.9},{"s":"Z","t":20.913,"v":-2.3},{"s":"Z","t":20.945,"v":-1.7},{"s":"Z","t":20.977,"v":-0.6},{"s":"Z","t":21.01,"v":-3.4},{"s":"Z","t":21.042,"v":-5.7},{"s":"Z","t":21.074,"v":-6.3},{"s":"Z","t":21.107,"v":-5.7},{"s":"Z","t":21.152,"v":-5.1}
 ]
},
"vconcat": [
 {
  "width": 561, "height": 174,
  "title": "Gyroscope",
  "layer": [
   {"data": {"name": "vlines"}, "mark": {"type": "rule", "color": "#4a98d3", "strokeWidth": 1.2},
    "encoding": {"x": {"field": "t", "type": "quantitative", "scale": {"domain": [10.296, 21.158], "nice": false, "zero": false}, "axis": {"values": [12, 14, 16, 18, 20], "title": "Time (s)"}}}},
   {"data": {"name": "gyro"}, "mark": {"type": "line", "strokeWidth": 1, "interpolate": "monotone"},
    "encoding": {
     "x": {"field": "t", "type": "quantitative", "scale": {"domain": [10.296, 21.158], "nice": false, "zero": false}, "axis": {"values": [12, 14, 16, 18, 20], "title": "Time (s)"}},
     "y": {"field": "v", "type": "quantitative", "scale": {"domain": [-440, 470], "nice": false, "zero": false}, "axis": {"values": [-400, -200, 0, 200, 400], "title": "Angular rate (deg/s)"}},
     "color": {"field": "s", "type": "nominal", "scale": {"domain": ["X", "Y", "Z"], "range": ["#ff0000", "#00ff00", "#0000ff"]}, "legend": {"title": null}}
    }}
  ]
 },
 {
  "width": 561, "height": 175,
  "title": {"text": "Accelerometer", "offset": -1},
  "data": {"name": "accel"},
  "mark": {"type": "line", "strokeWidth": 1},
  "encoding": {
   "x": {"field": "t", "type": "quantitative", "scale": {"domain": [10.296, 21.158], "nice": false, "zero": false}, "axis": {"values": [12, 14, 16, 18, 20], "title": "Time (s)"}},
   "y": {"field": "v", "type": "quantitative", "scale": {"domain": [-20, 40], "nice": false, "zero": false}, "axis": {"values": [-20, 0, 20, 40], "title": "Acceleration (g)"}},
   "color": {"field": "s", "type": "nominal", "scale": {"domain": ["X", "Y", "Z"], "range": ["#ff0000", "#00ff00", "#0000ff"]}, "legend": {"title": null}}
  }
 }
]
}
